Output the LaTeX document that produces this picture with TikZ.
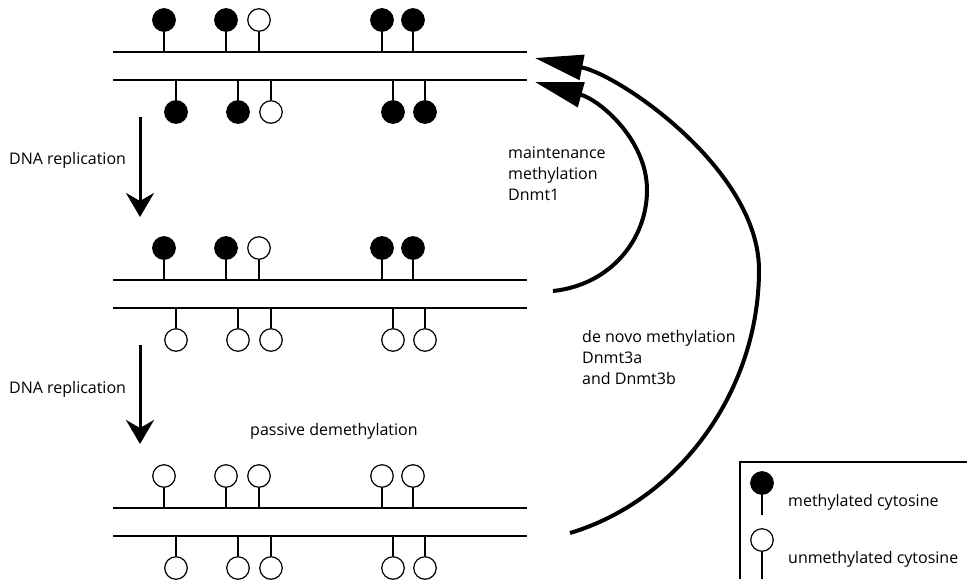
\documentclass[tikz,border=0pt]{standalone}
\usepackage{fontspec}
\setmainfont{Open Sans}
\usetikzlibrary{arrows.meta}
\tikzset{
  strand/.style={line width=1.5pt},
  stem/.style={line width=1.3pt},
  meth/.style={circle, fill=black, draw=black, line width=1.2pt, minimum size=22.5pt, inner sep=0pt},
  unmeth/.style={circle, fill=white, draw=black, line width=1.2pt, minimum size=22.5pt, inner sep=0pt},
  lbl/.style={font=\fontsize{16}{21}\selectfont, align=left, inner sep=0pt, anchor=base west},
  downarrow/.style={line width=3pt, -{Stealth[length=24pt,width=28pt,inset=8pt]}},
  curvedarrow/.style={line width=4pt, -{Triangle[length=48pt,width=25pt]}},
  legendbox/.style={line width=1.2pt}
}
\begin{document}
\begin{tikzpicture}[x=1pt,y=-1pt]
\fill[white] (0,0) rectangle (967,579);
\useasboundingbox (0,0) rectangle (967,579);

% strands
\foreach \b/\off in {1/0,2/228,3/456}{
  \coordinate (s\b tL) at (113,52+\off);
  \coordinate (s\b tR) at (527,52+\off);
  \coordinate (s\b bL) at (113,80+\off);
  \coordinate (s\b bR) at (527,80+\off);
  \draw[strand] (s\b tL) -- (s\b tR);
  \draw[strand] (s\b bL) -- (s\b bR);
}

% block 1
\foreach \x/\s [count=\i] in {164/meth,226/meth,259/unmeth,382/meth,413/meth}{
  \node[\s] (a\i) at (\x,20) {};
  \draw[stem] (a\i.south) -- (a\i.south |- s1tL);
}
\foreach \x/\s [count=\i] in {176/meth,238/meth,271/unmeth,393/meth,425/meth}{
  \node[\s] (b\i) at (\x,112) {};
  \draw[stem] (b\i.north) -- (b\i.north |- s1bL);
}
% block 2
\foreach \x/\s [count=\i] in {164/meth,226/meth,259/unmeth,382/meth,413/meth}{
  \node[\s] (c\i) at (\x,248) {};
  \draw[stem] (c\i.south) -- (c\i.south |- s2tL);
}
\foreach \x/\s [count=\i] in {176/unmeth,238/unmeth,271/unmeth,393/unmeth,425/unmeth}{
  \node[\s] (d\i) at (\x,340) {};
  \draw[stem] (d\i.north) -- (d\i.north |- s2bL);
}
% block 3
\foreach \x/\s [count=\i] in {164/unmeth,226/unmeth,259/unmeth,382/unmeth,413/unmeth}{
  \node[\s] (e\i) at (\x,476) {};
  \draw[stem] (e\i.south) -- (e\i.south |- s3tL);
}
\foreach \x/\s [count=\i] in {176/unmeth,238/unmeth,271/unmeth,393/unmeth,425/unmeth}{
  \node[\s] (f\i) at (\x,568) {};
  \draw[stem] (f\i.north) -- (f\i.north |- s3bL);
}

% replication arrows
\coordinate (r1s) at (140,117);
\coordinate (r1e) at (140,217);
\coordinate (r2s) at (140,345);
\coordinate (r2e) at (140,444);
\draw[downarrow] (r1s) -- (r1e);
\draw[downarrow] (r2s) -- (r2e);
\node[lbl] (rep1) at (9,164) {DNA replication};
\node[lbl] (rep2) at (9,393) {DNA replication};

% maintenance arrow
\coordinate (m0) at (553,291);
\coordinate (m1) at (647,190);
\coordinate (m2) at (535,82);
\draw[curvedarrow] (m0) .. controls (610,285) and (647,240) .. (m1)
   .. controls (647,140) and (600,100) .. (m2);
\node[lbl] (maint) at (508,200) {maintenance\\methylation\\Dnmt1};

% de novo arrow
\coordinate (n0) at (570,533);
\coordinate (n1) at (759,270);
\coordinate (n2) at (535,58);
\draw[curvedarrow] (n0) .. controls (680,500) and (759,390) .. (n1)
   .. controls (759,170) and (620,75) .. (n2);
\node[lbl] (denovo) at (582,384) {de novo methylation\\Dnmt3a\\and Dnmt3b};

\node[lbl] (passive) at (250,435) {passive demethylation};

% legend
\coordinate (lgR) at (967,462);
\coordinate (lgC) at (740,462);
\coordinate (lgB) at (740,579);
\draw[legendbox] (lgR) -- (lgC) -- (lgB);
\node[meth] (lm) at (762,483) {};
\coordinate (lmE) at (762,515);
\draw[stem] (lm.south) -- (lmE);
\node[unmeth] (lu) at (762,540) {};
\coordinate (luE) at (762,579);
\draw[stem] (lu.south) -- (luE);
\node[lbl] (lmt) at (788,506) {methylated cytosine};
\node[lbl] (lut) at (788,563) {unmethylated cytosine};
\end{tikzpicture}
\end{document}
